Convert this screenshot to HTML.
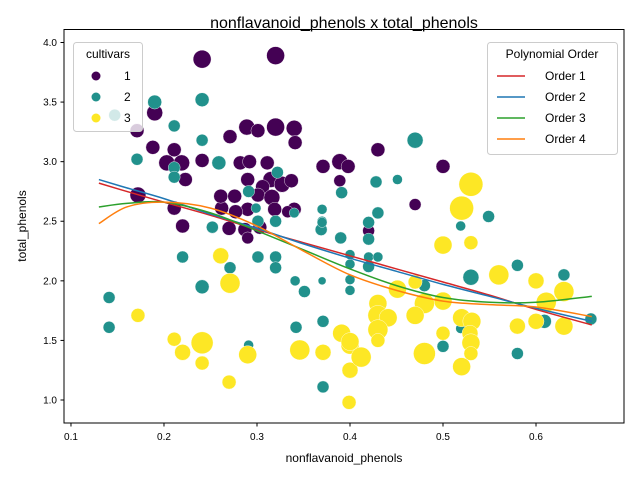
<!DOCTYPE html>
<html><head><meta charset="utf-8"><style>
body{margin:0;background:#fff;}
svg{font-family:"Liberation Sans","DejaVu Sans",sans-serif;}
</style></head><body>
<svg id="chart" width="640" height="480" viewBox="0 0 640 480" xmlns="http://www.w3.org/2000/svg">
<rect width="640" height="480" fill="#fff"/>
<text x="344" y="28" font-size="16" text-anchor="middle">nonflavanoid_phenols x total_phenols</text>
<g id="points"></g>
<g id="lines"></g>
<rect x="64" y="29.5" width="560" height="393.5" fill="none" stroke="#000" stroke-width="1"/>
<g id="xticks"></g>
<g id="yticks"></g>
<text x="344" y="462" font-size="12" text-anchor="middle">nonflavanoid_phenols</text>
<text x="26" y="226" font-size="12" text-anchor="middle" transform="rotate(-90 26 226)">total_phenols</text>
<g>
<rect x="73.5" y="42.5" width="69" height="89" rx="3" fill="#fff" fill-opacity="0.8" stroke="#ccc"/>
<text x="108" y="58" font-size="12" text-anchor="middle">cultivars</text>
<circle cx="96" cy="76" r="4.5" fill="#440154"/>
<text x="124" y="80" font-size="12">1</text>
<circle cx="96" cy="97" r="4.5" fill="#21918c"/>
<text x="124" y="101" font-size="12">2</text>
<circle cx="96" cy="118" r="4.5" fill="#fde725"/>
<text x="124" y="122" font-size="12">3</text>
</g>
<g>
<rect x="487.5" y="42.5" width="130" height="112" rx="3" fill="#fff" fill-opacity="0.8" stroke="#ccc"/>
<text x="552" y="58" font-size="12" text-anchor="middle">Polynomial Order</text>
<line x1="497" y1="76" x2="525" y2="76" stroke="#d62728" stroke-width="1.5"/>
<text x="545" y="80" font-size="12">Order 1</text>
<line x1="497" y1="97" x2="525" y2="97" stroke="#1f77b4" stroke-width="1.5"/>
<text x="545" y="101" font-size="12">Order 2</text>
<line x1="497" y1="118" x2="525" y2="118" stroke="#2ca02c" stroke-width="1.5"/>
<text x="545" y="122" font-size="12">Order 3</text>
<line x1="497" y1="139" x2="525" y2="139" stroke="#ff7f0e" stroke-width="1.5"/>
<text x="545" y="143" font-size="12">Order 4</text>
</g>
</svg>
<script>
const xTicks=[0.1,0.2,0.3,0.4,0.5,0.6];
const yTicks=[1.0,1.5,2.0,2.5,3.0,3.5,4.0];
const class1X=[.241,.320,.190,.171,.289,.301,.271,.320,.340,.341,.188,.211,.203,.219,.241,.282,.292,.311,.371,.389,.398,.500,.223,.290,.315,.327,.337,.306,.276,.301,.316,.319,.211,.220,.172,.262,.290,.340,.252,.270,.287,.290,.303,.277,.333,.470,.430,.420,.389,.261];
const class1Y=[3.86,3.89,3.41,3.26,3.29,3.26,3.21,3.29,3.28,3.16,3.12,3.10,2.99,2.99,3.01,2.99,3.00,2.99,2.96,3.00,2.96,2.96,2.85,2.85,2.85,2.81,2.84,2.79,2.71,2.72,2.70,2.60,2.61,2.46,2.72,2.61,2.60,2.60,2.45,2.44,2.43,2.36,2.45,2.58,2.58,2.64,3.10,2.42,2.84,2.71];
const class1S=[9,9,8,7,8,7,7,9,8,7,7,7,8,8,7,7,7,7,7,8,7,7,7,7,8,8,7,7,7,7,8,7,7,7,8,7,7,7,6,7,7,6,7,7,6,6,7,6,6,7];
const class2X=[.190,.147,.241,.211,.241,.171,.211,.211,.259,.322,.291,.252,.301,.299,.370,.370,.369,.220,.271,.272,.301,.320,.320,.341,.351,.370,.400,.400,.400,.400,.420,.428,.430,.451,.470,.391,.519,.549,.580,.530,.580,.659,.630,.609,.500,.519,.371,.371,.480,.390,.420,.420,.430,.420,.342,.141,.141,.291,.241,.320,.340,.370];
const class2Y=[3.50,3.39,3.52,3.30,3.18,3.02,2.95,2.87,2.99,2.91,2.75,2.45,2.50,2.61,2.60,2.50,2.43,2.20,2.11,1.99,2.20,2.20,2.11,2.00,1.91,2.00,2.22,2.14,1.92,2.01,2.35,2.83,2.57,2.85,3.18,2.74,2.46,2.54,2.13,2.03,1.39,1.68,2.05,1.66,1.45,1.60,1.11,1.66,1.96,2.36,2.49,2.20,2.20,2.12,1.61,1.86,1.61,1.46,1.95,2.50,2.57,2.49];
const class2S=[7,6,7,6,6,6,6,6,7,6,6,6,6,5,5,5,6,6,6,6,6,6,6,5,6,4,5,5,5,5,6,6,6,5,8,6,5,6,6,8,6,6,6,7,6,5,6,6,6,6,6,5,5,6,6,6,6,5,7,6,5,5];
const class3X=[.172,.211,.220,.241,.241,.261,.271,.270,.290,.346,.371,.391,.400,.400,.399,.412,.530,.520,.500,.530,.560,.600,.630,.611,.600,.630,.580,.451,.470,.500,.480,.470,.430,.430,.441,.430,.430,.520,.531,.529,.530,.530,.520,.500,.480,.400];
const class3Y=[1.71,1.51,1.40,1.48,1.31,2.21,1.98,1.15,1.38,1.42,1.40,1.56,1.46,1.25,0.98,1.36,2.81,2.61,2.30,2.32,2.05,2.00,1.91,1.82,1.66,1.62,1.62,1.93,1.99,1.83,1.81,1.71,1.81,1.71,1.69,1.59,1.50,1.69,1.66,1.56,1.48,1.39,1.28,1.56,1.39,1.49];
const class3S=[7,7,8,11,7,8,10,7,9,10,8,9,9,8,7,10,12,12,9,7,10,8,10,10,8,9,8,9,7,9,10,9,9,10,9,10,7,9,9,8,9,7,9,7,11,9];
const fitX=[0.13,0.16,0.20,0.25,0.30,0.35,0.40,0.45,0.50,0.55,0.60,0.66];
const order1Y=[2.82,2.75,2.66,2.55,2.43,2.32,2.21,2.10,1.99,1.88,1.76,1.63];
const order2Y=[2.85,2.78,2.69,2.56,2.44,2.31,2.19,2.08,1.97,1.87,1.77,1.66];
const order3Y=[2.62,2.65,2.66,2.57,2.42,2.26,2.10,1.96,1.86,1.82,1.82,1.87];
const order4Y=[2.48,2.62,2.66,2.61,2.46,2.25,2.05,1.92,1.83,1.80,1.78,1.70];

const NS='http://www.w3.org/2000/svg';
const X0=0.0925,X1=0.6946,Y0=0.807,Y1=4.109;
function xs(v){return 64+(v-X0)/(X1-X0)*560;}
function ys(v){return 423-(v-Y0)/(Y1-Y0)*393.5;}
const pts=document.getElementById('points');
function drawClass(xa,ya,sa,color,cls){
  for(let i=0;i<xa.length;i++){
    const c=document.createElementNS(NS,'circle');
    c.setAttribute('cx',xs(xa[i]));c.setAttribute('cy',ys(ya[i]));
    c.setAttribute('r',sa[i]);c.setAttribute('fill',color);
    c.setAttribute('stroke','#fff');c.setAttribute('stroke-width','0.4');
    
    
    pts.appendChild(c);
  }
}
drawClass(class1X,class1Y,class1S,'#440154',1);
drawClass(class2X,class2Y,class2S,'#21918c',2);
drawClass(class3X,class3Y,class3S,'#fde725',3);
const lg=document.getElementById('lines');
function smoothPath(P){
  let d='M'+P[0][0]+','+P[0][1];
  for(let i=0;i<P.length-1;i++){
    const p0=P[Math.max(0,i-1)],p1=P[i],p2=P[i+1],p3=P[Math.min(P.length-1,i+2)];
    const c1x=p1[0]+(p2[0]-p0[0])/6,c1y=p1[1]+(p2[1]-p0[1])/6;
    const c2x=p2[0]-(p3[0]-p1[0])/6,c2y=p2[1]-(p3[1]-p1[1])/6;
    d+=' C'+c1x+','+c1y+' '+c2x+','+c2y+' '+p2[0]+','+p2[1];
  }
  return d;
}
function drawLine(ya,color,n){
  const p=document.createElementNS(NS,'path');
  p.setAttribute('d',smoothPath(fitX.map((x,i)=>[xs(x),ys(ya[i])])));
  p.setAttribute('fill','none');p.setAttribute('stroke',color);p.setAttribute('stroke-width','1.5');
  
  
  lg.appendChild(p);
}
drawLine(order1Y,'#d62728',1);
drawLine(order2Y,'#1f77b4',2);
drawLine(order3Y,'#2ca02c',3);
drawLine(order4Y,'#ff7f0e',4);
const xg=document.getElementById('xticks');
xTicks.forEach(t=>{
  const l=document.createElementNS(NS,'line');
  l.setAttribute('x1',xs(t));l.setAttribute('x2',xs(t));l.setAttribute('y1',423);l.setAttribute('y2',426.5);l.setAttribute('stroke','#000');
  
  
  xg.appendChild(l);
  const tx=document.createElementNS(NS,'text');
  tx.setAttribute('x',xs(t));tx.setAttribute('y',440);tx.setAttribute('font-size','10');tx.setAttribute('text-anchor','middle');
  tx.textContent=t.toFixed(1);
  
  
  xg.appendChild(tx);
});
const yg=document.getElementById('yticks');
yTicks.forEach(t=>{
  const l=document.createElementNS(NS,'line');
  l.setAttribute('x1',60.5);l.setAttribute('x2',64);l.setAttribute('y1',ys(t));l.setAttribute('y2',ys(t));l.setAttribute('stroke','#000');
  
  
  yg.appendChild(l);
  const tx=document.createElementNS(NS,'text');
  tx.setAttribute('x',57);tx.setAttribute('y',ys(t)+3.5);tx.setAttribute('font-size','10');tx.setAttribute('text-anchor','end');
  tx.textContent=t.toFixed(1);
  
  
  yg.appendChild(tx);
});
</script>
</body></html>
